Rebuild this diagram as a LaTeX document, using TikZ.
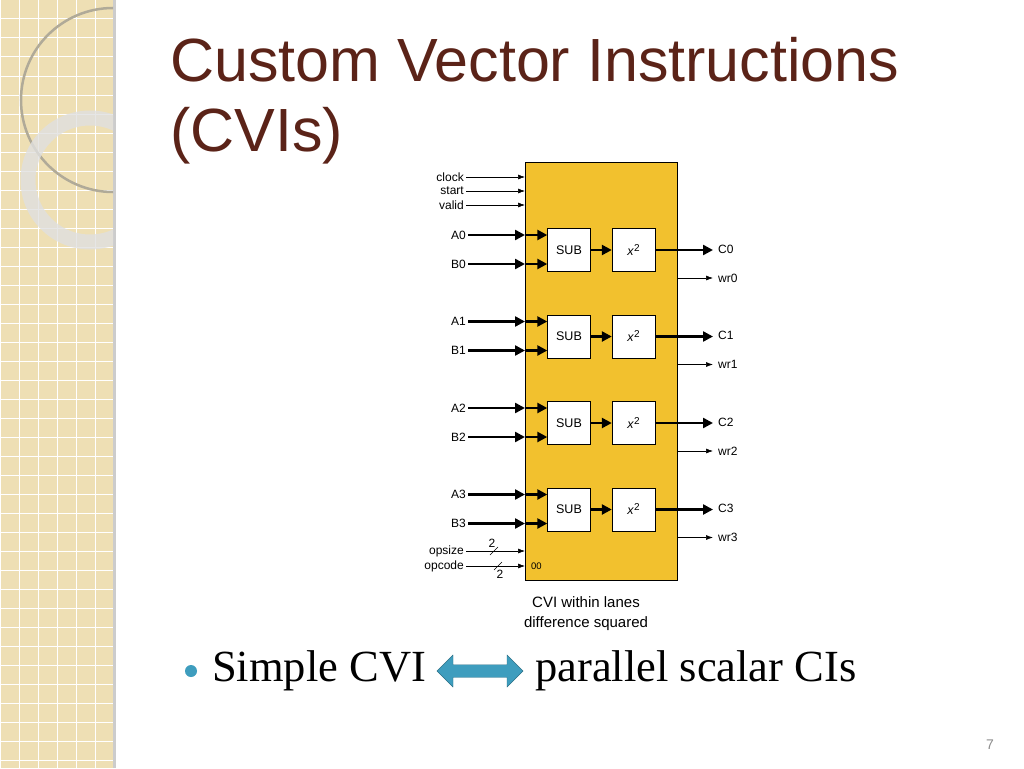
\documentclass[tikz,border=0pt]{standalone}
\usepackage{fontspec}
\setmainfont{Liberation Serif}
\setsansfont{Liberation Sans}
\usetikzlibrary{arrows.meta,shapes.arrows}
\definecolor{band}{HTML}{EEDFB4}
\definecolor{ttl}{HTML}{5B2318}
\definecolor{cviy}{HTML}{F2C12E}
\definecolor{teal}{HTML}{3E9DBE}
\begin{document}
\begin{tikzpicture}[x=1pt,y=-1pt,
 lbl/.style={font=\sffamily\fontsize{12}{13}\selectfont,inner sep=2pt},
 thick arr/.style={line width=2.4pt,-{Triangle[length=10pt,width=10pt]}},
 thin arr/.style={line width=0.6pt,-{Latex[length=7pt,width=5pt]}},
 blk/.style={draw,fill=white,minimum width=43pt,minimum height=43pt,inner sep=0pt,font=\sffamily\fontsize{12.5}{13}\selectfont}]
\useasboundingbox (0,0) rectangle (1024,768);
\fill[white] (0,0) rectangle (1024,768);
% left band
\fill[band] (0,0) rectangle (113,768);
\foreach \i in {0,19,...,112} \draw[white,line width=1pt] (\i,0) -- (\i,768);
\foreach \j in {0,19,...,768} \draw[white,line width=1pt] (0,\j) -- (113,\j);
\fill[black!20] (113,0) rectangle (116,768);
\begin{scope}
\clip (0,0) rectangle (113,768);
\draw[band!60!black!70!white,line width=2.5pt] (113,100) circle[radius=92];
\draw[black!12,line width=15pt,opacity=0.8] (90,180) circle[radius=62];
\end{scope}
% title
\node[anchor=west,text=ttl,font=\sffamily\fontsize{61}{70}\selectfont,align=left,inner sep=0pt] (title) at (170,101) {Custom Vector Instructions\\(CVIs)};
% main box
\node[draw,fill=cviy,minimum width=152pt,minimum height=418pt,inner sep=0pt,anchor=north west] (cvi) at (525,162) {};
% control inputs
\foreach \n/\y in {clock/177,start/191,valid/205}{
 \node[lbl,anchor=east] (\n) at (466,\y) {\n};
 \draw[thin arr] (\n.east) -- (525,\y);
}
% lanes
\foreach \k/\c in {0/250,1/336.5,2/423,3/509.5}{
 \node[blk] (sub\k) at (569,\c) {SUB};
 \node[blk] (sq\k) at (633.5,\c) {\textit{x}\raisebox{4pt}{\fontsize{10}{10}\selectfont 2}};
 \node[lbl,anchor=east] (a\k) at (468,\c-15) {A\k};
 \node[lbl,anchor=east] (b\k) at (468,\c+14) {B\k};
 \draw[thick arr] (a\k.east) -- (525,\c-15);
 \draw[thick arr] (b\k.east) -- (525,\c+14);
 \draw[thick arr] (525,\c-15) -- (sub\k.west|-0,\c-15);
 \draw[thick arr] (525,\c+14) -- (sub\k.west|-0,\c+14);
 \draw[thick arr] (sub\k) -- (sq\k);
 \node[lbl,anchor=west] (c\k) at (716,\c-1) {C\k};
 \draw[thick arr] (sq\k) -- (677,\c) -- ([xshift=-3pt]c\k.west|-0,\c);
 \node[lbl,anchor=west] (w\k) at (716,\c+28) {wr\k};
 \draw[thin arr] (677,\c+28) -- ([xshift=-3pt]w\k.west);
}
% opsize/opcode
\node[lbl,anchor=east] (ops) at (466,551) {opsize};
\node[lbl,anchor=east] (opc) at (466,566) {opcode};
\draw[thin arr] (ops.east) -- (525,551);
\draw[thin arr] (opc.east) -- (525,566);
\draw[line width=0.6pt] (490,555) -- (498,547);
\draw[line width=0.6pt] (494,570) -- (502,562);
\node[lbl] (n1) at (492,543) {2};
\node[lbl] (n2) at (500,574) {2};
\node[lbl,anchor=west,font=\sffamily\fontsize{9.5}{10}\selectfont] (zz) at (529,566) {00};
% caption
\node[lbl,align=center,font=\sffamily\fontsize{15}{20}\selectfont] (cap) at (586,614) {CVI within lanes\\difference squared};
% bullet
\fill[teal] (191,671) circle[radius=6];
\node[anchor=west,font=\fontsize{44.5}{50}\selectfont,inner sep=0pt] (s1) at (212,671) {Simple CVI};
\node[anchor=west,font=\fontsize{44.5}{50}\selectfont,inner sep=0pt] (s2) at (535,671) {parallel scalar CIs};
\node[double arrow,fill=teal,draw=teal!70!black,minimum width=32pt,double arrow head extend=5pt,minimum height=86pt,inner sep=3pt] (da) at (480,671) {};
\node[text=black!45,font=\sffamily\fontsize{14}{16}\selectfont] (pg) at (990,745) {7};
\end{tikzpicture}
\end{document}
